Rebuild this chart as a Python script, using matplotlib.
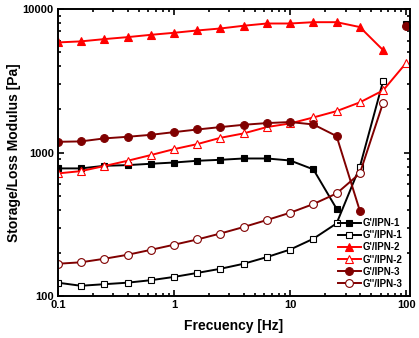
import numpy as np
import matplotlib
matplotlib.use("Agg")
import matplotlib.pyplot as plt
from matplotlib.ticker import LogLocator, NullFormatter, FixedLocator, FixedFormatter

plt.rcParams['font.family'] = ['Liberation Sans', 'DejaVu Sans']
plt.rcParams['font.weight'] = 'bold'

# --- DATA --- #
freq = [0.1, 0.158, 0.251, 0.398, 0.631, 1.0, 1.585, 2.51, 3.98, 6.31,
        10.0, 15.85, 25.1, 39.8, 63.1, 100.0]
nan = np.nan

g1_storage = [776, 776, 809, 818, 836, 853, 877, 891, 910, 910,
              881, 764, 406, nan, nan, 7860]
g1_loss = [124, 118, 121, 124, 129, 136, 145, 155, 168, 187,
           211, 251, 321, 796, 3150, nan]
g2_storage = [5860, 5960, 6180, 6380, 6620, 6840, 7100, 7330, 7660, 7940,
              7940, 8110, 8110, 7500, 5180, nan]
g2_loss = [716, 743, 806, 877, 961, 1057, 1146, 1268, 1361, 1507,
           1597, 1758, 1946, 2239, 2713, 4230]
g3_storage = [1189, 1197, 1256, 1289, 1330, 1389, 1449, 1506, 1563, 1606,
              1633, 1571, 1303, 393, nan, 7620]
g3_loss = [168, 172, 182, 194, 210, 228, 248, 273, 303, 339,
           381, 438, 519, 716, 2222, nan]

labels = ["G'/IPN-1", "G''/IPN-1", "G'/IPN-2", "G''/IPN-2", "G'/IPN-3", "G''/IPN-3"]

BLACK = '#000000'
RED = '#ff0000'
DRED = '#800000'

fig = plt.figure(figsize=(4.19, 3.38), dpi=100)
ax = fig.add_axes([0.138, 0.124, 0.841, 0.849])

series = [
    (g1_storage, BLACK, 's', True),
    (g1_loss, BLACK, 's', False),
    (g2_storage, RED, '^', True),
    (g2_loss, RED, '^', False),
    (g3_storage, DRED, 'o', True),
    (g3_loss, DRED, 'o', False),
]
for (vals, col, mk, filled), lab in zip(series, labels):
    ms = 5.6 if mk != 's' else 5.0
    ax.plot(freq, vals, color=col, marker=mk, markersize=ms, linewidth=1.4,
            markerfacecolor=col if filled else 'white', markeredgecolor=col,
            markeredgewidth=0.8, label=lab)

ax.set_xscale('log')
ax.set_yscale('log')
ax.set_xlim(0.1, 108)
ax.set_ylim(100, 10000)

ax.xaxis.set_major_locator(FixedLocator([0.1, 1, 10, 100]))
ax.xaxis.set_major_formatter(FixedFormatter(['0.1', '1', '10', '100']))
ax.yaxis.set_major_locator(FixedLocator([100, 1000, 10000]))
ax.yaxis.set_major_formatter(FixedFormatter(['100', '1000', '10000']))
ax.xaxis.set_minor_locator(LogLocator(base=10, subs=np.arange(2, 10)))
ax.yaxis.set_minor_locator(LogLocator(base=10, subs=np.arange(2, 10)))
ax.xaxis.set_minor_formatter(NullFormatter())
ax.yaxis.set_minor_formatter(NullFormatter())

ax.tick_params(which='both', direction='in', top=True, right=True, width=1.2)
ax.tick_params(which='major', length=4, labelsize=8, pad=3)
ax.tick_params(which='minor', length=2.2)
for lbl in ax.get_xticklabels() + ax.get_yticklabels():
    lbl.set_fontweight('bold')
for sp in ax.spines.values():
    sp.set_linewidth(1.4)

ax.set_xlabel('Frecuency [Hz]', fontsize=10, fontweight='bold', labelpad=6)
ax.set_ylabel('Storage/Loss Modulus [Pa]', fontsize=10, fontweight='bold', labelpad=1)

ax.legend(loc='lower right', frameon=False, handlelength=2.3,
          handletextpad=0.25, labelspacing=0.22, borderaxespad=0.35,
          prop={'weight': 'bold', 'size': 7})

fig.savefig('out.png', dpi=100)
